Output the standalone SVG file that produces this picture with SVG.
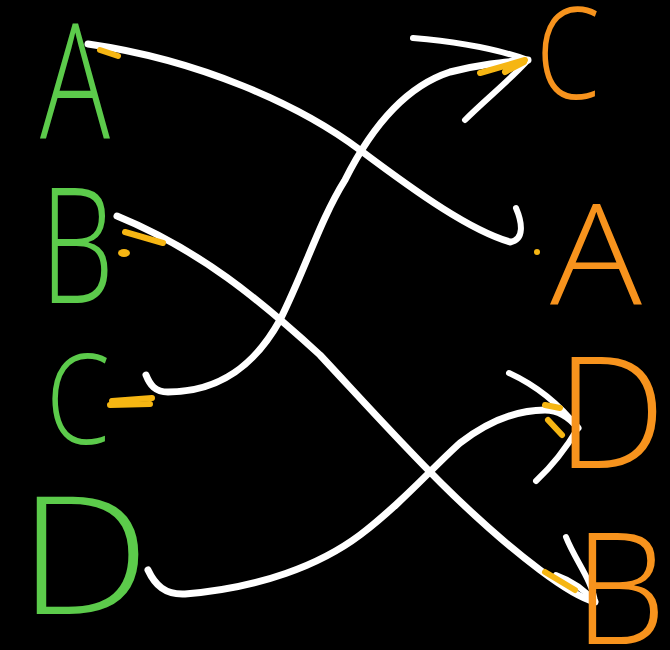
<svg xmlns="http://www.w3.org/2000/svg" width="670" height="650" viewBox="0 0 670 650">
<style>
.bg{fill:#000}
.lbl{font-family:"Open Sans","Liberation Sans",sans-serif;font-weight:300;lengthAdjust:spacingAndGlyphs}
.src{fill:#5ccb4b}
.dst{fill:#f7931d}
.wire{fill:none;stroke:#fff;stroke-width:7;stroke-linecap:round;stroke-linejoin:round}
.head{fill:none;stroke:#fff;stroke-width:6;stroke-linecap:round;stroke-linejoin:round}
.mark{fill:none;stroke:#f6b613;stroke-width:6;stroke-linecap:round}
.dot{fill:#f6b613}
</style>
<rect class="bg" x="0" y="0" width="670" height="650"/>
<g id="connectors">
  <g id="edge-A-A">
    <path class="wire" d="M88,44 C200,60 300,105 360,150 C420,195 470,230 510,242"/>
    <path class="head" d="M510,242 C525,240 522,222 516,208"/>
    <path class="mark" d="M100,50 L118,56"/>
    <circle class="dot" cx="537" cy="252" r="3"/>
  </g>
  <g id="edge-B-B">
    <path class="wire" d="M117,216 C200,250 260,300 320,355 C390,430 460,510 540,570 C560,585 580,598 595,602"/>
    <path class="head" d="M566,537 C575,560 592,580 595,602 C585,590 570,580 556,575"/>
    <path class="mark" d="M125,232 L163,243"/>
    <ellipse class="dot" cx="124" cy="253" rx="6" ry="4"/>
    <path class="mark" d="M545,572 L575,590"/>
  </g>
  <g id="edge-C-C">
    <path class="wire" d="M146,375 C150,385 155,392 168,392 C220,392 255,365 280,320 C305,270 320,220 345,180 C375,120 410,85 450,72 C480,64 505,62 528,60"/>
    <path class="head" d="M413,38 C460,42 500,50 528,60 C510,80 485,100 465,120"/>
    <path class="mark" d="M112,401 L152,398"/>
    <path class="mark" d="M110,405 L150,404"/>
    <path class="mark" d="M480,73 L525,60 M505,72 L524,62"/>
  </g>
  <g id="edge-D-D">
    <path class="wire" d="M148,570 C155,585 165,595 185,594 C260,588 320,565 360,535 C400,505 430,470 460,443 C490,420 520,410 545,410 C560,410 570,418 578,428"/>
    <path class="head" d="M509,373 C535,385 560,405 578,428 C565,450 550,468 536,481"/>
    <path class="mark" d="M548,420 L562,435 M545,405 L560,408"/>
  </g>
</g>
<g id="node-left-A"><text class="lbl src" x="40" y="139" font-size="160" textLength="70" lengthAdjust="spacingAndGlyphs">A</text></g>
<g id="node-left-B"><text class="lbl src" x="40" y="303" font-size="160" textLength="74" lengthAdjust="spacingAndGlyphs">B</text></g>
<g id="node-left-C"><text class="lbl src" x="46" y="444" font-size="125" textLength="64" lengthAdjust="spacingAndGlyphs">C</text></g>
<g id="node-left-D"><text class="lbl src" x="18" y="614" font-size="165" textLength="132" lengthAdjust="spacingAndGlyphs">D</text></g>
<g id="node-right-C"><text class="lbl dst" x="536" y="99" font-size="128" textLength="64" lengthAdjust="spacingAndGlyphs">C</text></g>
<g id="node-right-A"><text class="lbl dst" x="550" y="304" font-size="140" textLength="92" lengthAdjust="spacingAndGlyphs">A</text></g>
<g id="node-right-D"><text class="lbl dst" x="556" y="468" font-size="155" textLength="110" lengthAdjust="spacingAndGlyphs">D</text></g>
<g id="node-right-B"><text class="lbl dst" x="574" y="644" font-size="155" textLength="92" lengthAdjust="spacingAndGlyphs">B</text></g>
</svg>
